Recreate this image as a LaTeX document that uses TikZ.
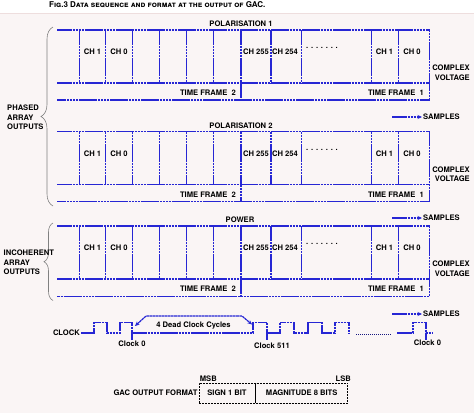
\documentclass[tikz,border=0pt]{standalone}
\usepackage{fontspec}
\setmainfont{TeX Gyre Heros}
\usetikzlibrary{positioning, arrows.meta, decorations.pathreplacing}

\definecolor{wireblue}{RGB}{38,38,212}
\definecolor{paper}{RGB}{250,245,245}
\definecolor{paperedge}{RGB}{238,222,222}

\tikzset{
	wire/.style={wireblue, line width=1.2pt, dash pattern=on 2.6pt off 0.5pt},
	arr/.style={wire, -{Stealth[length=4.5pt, width=4pt]}},
	lbl/.style={font=\fontsize{7.6}{9.5}\selectfont\bfseries, inner sep=1pt},
	brc/.style={gray, line width=0.6pt, decorate},
	fmtbox/.style={draw, black, line width=0.7pt, dash pattern=on 2pt off 1pt,
		minimum height=20pt, inner sep=0pt},
}

\begin{document}
\begin{tikzpicture}[x=1pt, y=-1pt, every node/.style={lbl}]
	\useasboundingbox (0,0) rectangle (474,413);
	\fill[paper] (0,13.5) rectangle (474,413);
	\draw[paperedge, line width=0.8pt] (0,13.5) -- (474,13.5);

	\node[anchor=west, font=\fontsize{8}{9}\selectfont\bfseries\scshape] (title) at (48,5)
		{Fig.3 Data sequence and format at the output of GAC.};

	% Draw the polarisation 1 block
	\node (pola) at (241,24) {POLARISATION 1};
	\draw[wire] (57,30) -- (429.5,30) -- (429.5,100) -- (57,100);
	\draw[wire] (57,83) -- (429.5,83) (241,83) -- (241,100);
	\draw[wire] (79.5,30) -- (79.5,83) (105.5,30) -- (105.5,83) (132.5,30) -- (132.5,83)
		(159.5,30) -- (159.5,83) (186.5,30) -- (186.5,83) (213.5,30) -- (213.5,83)
		(241,30) -- (241,83) (271,30) -- (271,83) (301.5,30) -- (301.5,83)
		(371.5,30) -- (371.5,83) (398.5,30) -- (398.5,83);
	\node (pach1) at (92.5,52) {CH 1};
	\node (pach0) at (119,52) {CH 0};
	\node (pach255) at (256,52) {CH 255};
	\node (pach254) at (285,52) {CH 254};
	\node (padots) at (322,48) {. . . . . . .};
	\node (pach1r) at (384.5,52) {CH 1};
	\node (pach0r) at (412,52) {CH 0};
	\node[anchor=east] (patf2) at (237,93) {TIME FRAME\ \ 2};
	\node[anchor=east] (patf1) at (425,93) {TIME FRAME\ \ 1};
	\node[anchor=east, align=right] (pacv) at (471,72.5) {COMPLEX\\VOLTAGE};
	\node[anchor=west] (pasm) at (422,117) {SAMPLES};
	\draw[arr] ([xshift=-30pt]pasm.west) -- (pasm.west);

	% Draw the polarisation 2 block
	\node (polb) at (241,125.5) {POLARISATION 2};
	\draw[wire] (57,131.5) -- (429.5,131.5) -- (429.5,201.5) -- (57,201.5);
	\draw[wire] (57,184.5) -- (429.5,184.5) (241,184.5) -- (241,201.5);
	\draw[wire] (79.5,131.5) -- (79.5,184.5) (105.5,131.5) -- (105.5,184.5) (132.5,131.5) -- (132.5,184.5)
		(159.5,131.5) -- (159.5,184.5) (186.5,131.5) -- (186.5,184.5) (213.5,131.5) -- (213.5,184.5)
		(241,131.5) -- (241,184.5) (271,131.5) -- (271,184.5) (301.5,131.5) -- (301.5,184.5)
		(371.5,131.5) -- (371.5,184.5) (398.5,131.5) -- (398.5,184.5);
	\node (pbch1) at (92.5,153.5) {CH 1};
	\node (pbch0) at (119,153.5) {CH 0};
	\node (pbch255) at (256,153.5) {CH 255};
	\node (pbch254) at (285,153.5) {CH 254};
	\node (pbdots) at (322,149.5) {. . . . . . .};
	\node (pbch1r) at (384.5,153.5) {CH 1};
	\node (pbch0r) at (412,153.5) {CH 0};
	\node[anchor=east] (pbtf2) at (237,194.5) {TIME FRAME\ \ 2};
	\node[anchor=east] (pbtf1) at (425,194.5) {TIME FRAME\ \ 1};
	\node[anchor=east, align=right] (pbcv) at (471,174) {COMPLEX\\VOLTAGE};
	\node[anchor=west] (pbsm) at (422,218) {SAMPLES};
	\draw[arr] ([xshift=-30pt]pbsm.west) -- (pbsm.west);

	% Draw the power block
	\node (power) at (240,220) {POWER};
	\draw[wire] (57,226) -- (429.5,226) -- (429.5,296.5) -- (57,296.5);
	\draw[wire] (57,279) -- (429.5,279) (241,279) -- (241,296.5);
	\draw[wire] (79.5,226) -- (79.5,279) (105.5,226) -- (105.5,279) (132.5,226) -- (132.5,279)
		(159.5,226) -- (159.5,279) (186.5,226) -- (186.5,279) (213.5,226) -- (213.5,279)
		(241,226) -- (241,279) (271,226) -- (271,279) (301.5,226) -- (301.5,279)
		(371.5,226) -- (371.5,279) (398.5,226) -- (398.5,279);
	\node (pwch1) at (92.5,248) {CH 1};
	\node (pwch0) at (119,248) {CH 0};
	\node (pwch255) at (256,248) {CH 255};
	\node (pwch254) at (285,248) {CH 254};
	\node (pwdots) at (322,244) {. . . . . . .};
	\node (pwch1r) at (384.5,248) {CH 1};
	\node (pwch0r) at (412,248) {CH 0};
	\node[anchor=east] (pwtf2) at (237,289) {TIME FRAME\ \ 2};
	\node[anchor=east] (pwtf1) at (425,289) {TIME FRAME\ \ 1};
	\node[anchor=east, align=right] (pwcv) at (471,268.5) {COMPLEX\\VOLTAGE};
	\node[anchor=west] (pwsm) at (422,314) {SAMPLES};
	\draw[arr] ([xshift=-30pt]pwsm.west) -- (pwsm.west);

	% Braces on the left
	\draw[brc, decoration={brace, amplitude=12pt}] (53,206) -- (53,27);
	\node[anchor=west, align=left] (phased) at (6,117.5) {PHASED\\ARRAY\\OUTPUTS};
	\draw[brc, decoration={brace, amplitude=9pt}] (53,300.5) -- (53,223);
	\node[anchor=west, align=left] (incoh) at (2.5,262.5) {INCOHERENT\\ARRAY\\OUTPUTS};

	% Draw the clock line
	\node[anchor=east] (clk) at (81,333) {CLOCK};
	\draw[wire] (clk.east) -- (94,333) -- (94,322.5) -- (107,322.5) -- (107,333)
		-- (120,333) -- (120,322.5) -- (132,322.5) -- (132,333) -- (253,333)
		-- (253,322.5) -- (267,322.5) -- (267,333) -- (280,333) -- (280,322.5)
		-- (294,322.5) -- (294,333) -- (308,333) -- (308,322.5) -- (322,322.5)
		-- (322,333) -- (335,333) -- (335,322.5) -- (349,322.5) -- (349,333);
	\draw[wireblue!60!black, line width=1pt, dash pattern=on 1pt off 1pt] (356,334) -- (392,334);
	\draw[wire] (397,333) -- (413,333) -- (413,322.5) -- (426,322.5) -- (426,333) -- (432,333);

	\node (clka) at (132,344) {Clock 0};
	\node (clkb) at (272,345.5) {Clock 511};
	\node (clkc) at (427.5,343) {Clock 0};
	\draw[wire] (132,333) -- (132,340);
	\draw[wire] (267,333) -- (267,340);
	\draw[wire] (426,333) -- (426,340);

	\node (dead) at (193.5,325.5) {4 Dead Clock Cycles};
	\coordinate (deadl) at (135,326);
	\coordinate (deadr) at (252,324.5);
	\draw[wire, {Stealth[length=4.5pt, width=4pt]}-{Stealth[length=4.5pt, width=4pt]}]
		(deadl) -- (146,316) -- (242,316) -- (deadr);

	% Draw the output format word
	\node[fmtbox, minimum width=56pt] (sign) at (227,393) {SIGN 1 BIT};
	\node[fmtbox, minimum width=92pt, right=0pt of sign] (mag) {MAGNITUDE 8 BITS};
	\node[left=0pt of sign] (gacfmt) {GAC OUTPUT FORMAT};
	\node[anchor=south west] (msb) at (sign.north west) {MSB};
	\node[anchor=south east] (lsb) at ([xshift=4pt]mag.north east) {LSB};
\end{tikzpicture}
\end{document}
